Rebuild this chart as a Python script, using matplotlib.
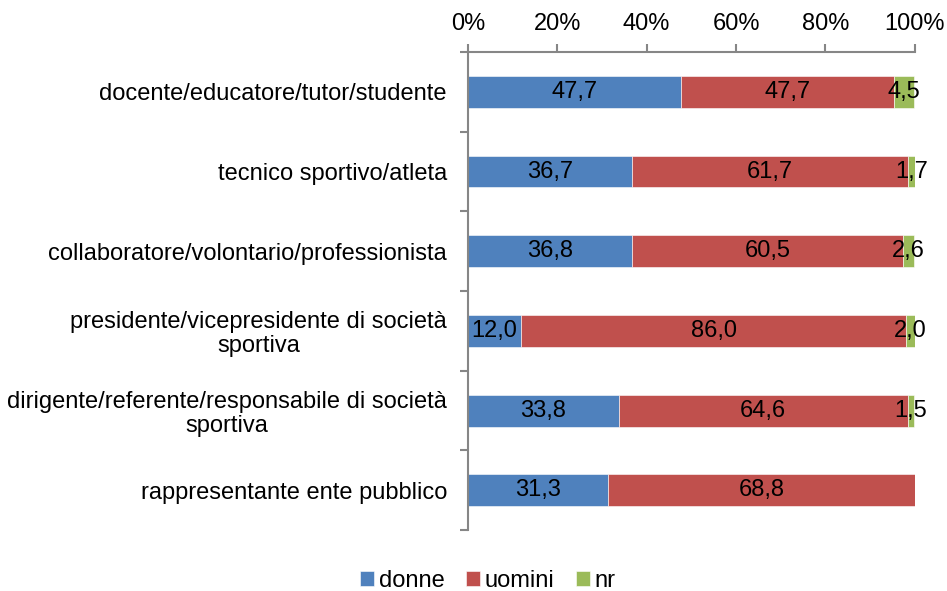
import matplotlib.pyplot as plt
import numpy as np

plt.rcParams['font.family'] = ['Liberation Sans', 'DejaVu Sans']

# categorie (dall'alto verso il basso) e percentuali per genere
categorie = [
    'docente/educatore/tutor/studente',
    'tecnico sportivo/atleta',
    'collaboratore/volontario/professionista',
    'presidente/vicepresidente di società\nsportiva',
    'dirigente/referente/responsabile di società\nsportiva',
    'rappresentante ente pubblico',
]
donne = [47.7, 36.7, 36.8, 12.0, 33.8, 31.3]
uomini = [47.7, 61.7, 60.5, 86.0, 64.6, 68.8]
nr = [4.5, 1.7, 2.6, 2.0, 1.5, 0.0]

serie = [('donne', donne, '#4F81BD'),
         ('uomini', uomini, '#C0504D'),
         ('nr', nr, '#9BBB59')]

FS = 17

fig = plt.figure(figsize=(9.47, 5.91), dpi=100)
ax = fig.add_axes([0.494, 0.103, 0.472, 0.809])

y = np.arange(len(categorie))
left = np.zeros(len(categorie))
for nome, valori, colore in serie:
    valori = np.array(valori)
    ax.barh(y, valori, left=left, height=0.4, color=colore,
            edgecolor='white', linewidth=0.4, label=nome)
    for yi, l, v in zip(y, left, valori):
        if v > 0:
            ax.text(l + v / 2, yi, f'{v:.1f}'.replace('.', ','),
                    ha='center', va='center', fontsize=FS, color='black')
    left += valori

ax.set_xlim(0, 100)
ax.set_ylim(len(categorie) - 0.5, -0.5)
ax.xaxis.tick_top()
ax.set_xticks(np.arange(0, 101, 20))
ax.set_xticklabels([f'{t}%' for t in range(0, 101, 20)], fontsize=FS)

# etichette di categoria al centro, tacche sui confini
ax.set_yticks(y)
ax.set_yticklabels(categorie, fontsize=FS, multialignment='center',
                   linespacing=1.1)
ax.set_yticks(np.arange(-0.5, len(categorie)), minor=True)
ax.tick_params(axis='y', which='major', length=0, pad=15)
ax.tick_params(axis='y', which='minor', length=6, color='#868686', width=1.5)
ax.tick_params(axis='x', length=6, color='#868686', width=1.5, pad=6)

for s in ['right', 'bottom']:
    ax.spines[s].set_visible(False)
for s in ['left', 'top']:
    ax.spines[s].set_color('#868686')
    ax.spines[s].set_linewidth(1.5)

fig.legend(loc='lower center', bbox_to_anchor=(0.515, -0.038), ncol=3,
           frameon=False, fontsize=FS, handlelength=0.6, handleheight=0.6,
           handletextpad=0.2, columnspacing=0.9)

fig.savefig('out.png', dpi=100)
